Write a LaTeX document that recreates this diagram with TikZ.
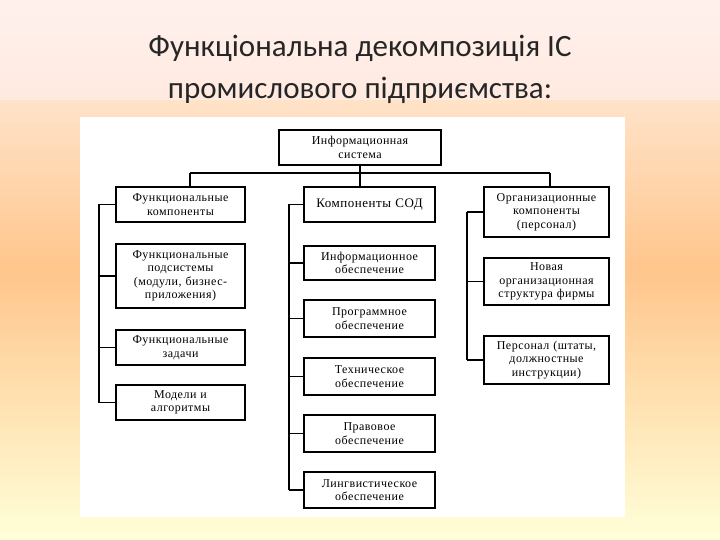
\documentclass[tikz,border=0pt]{standalone}
\usepackage{fontspec}
\setmainfont{Liberation Serif}[LetterSpace=4]
\newfontfamily\titlefont{Carlito}
\begin{document}
\begin{tikzpicture}[x=1pt,y=-1pt,
  bx/.style={draw,line width=1.2pt,fill=white,align=center,font=\fontsize{12}{13.5}\selectfont,inner sep=0pt},
  ln/.style={line width=1.2pt}]
\useasboundingbox (0,0) rectangle (720,540);
\shade[top color=white!60!pink!70!orange!20, bottom color=yellow!15!white, middle color=orange!45!white] (0,0) rectangle (720,540);
\fill[pink!25!white,opacity=0.6] (0,0) rectangle (720,100);
\node[font=\titlefont\fontsize{31}{42}\selectfont,align=center,text=black!85] (title) at (360,69) {Функціональна декомпозиція ІС\\промислового підприємства:};
\fill[white] (80,117) rectangle (625,517);
% boxes
\node[bx,minimum width=162,minimum height=35] (is) at (360,147.5) {Информационная\\система};
\tikzset{L/.style={bx,minimum width=129,text width=127},M/.style={bx,minimum width=131,text width=129},R/.style={bx,minimum width=125,text width=123}}
\node[L,minimum height=35] (l1) at (180.5,204.5) {Функциональные\\компоненты};
\node[L,minimum height=64] (l2) at (180.5,276) {Функциональные\\подсистемы\\(модули, бизнес-\\приложения)};
\node[L,minimum height=35] (l3) at (180.5,347.5) {Функциональные\\задачи};
\node[L,minimum height=35] (l4) at (180.5,402.5) {Модели и\\алгоритмы};
\node[M,minimum height=35,font=\fontsize{13}{14}\selectfont] (m1) at (369.5,204.5) {Компоненты СОД};
\node[M,minimum height=34] (m2) at (369.5,263) {Информационное\\обеспечение};
\node[M,minimum height=37] (m3) at (369.5,318.5) {Программное\\обеспечение};
\node[M,minimum height=37] (m4) at (369.5,376.5) {Техническое\\обеспечение};
\node[M,minimum height=37] (m5) at (369.5,433.5) {Правовое\\обеспечение};
\node[M,minimum height=36] (m6) at (369.5,490) {Лингвистическое\\обеспечение};
\node[R,minimum height=50] (r1) at (546.5,212) {Организационные\\компоненты\\(персонал)};
\node[R,minimum height=47] (r2) at (546.5,281.5) {Новая\\организационная\\структура фирмы};
\node[R,minimum height=48] (r3) at (546.5,360) {Персонал (штаты,\\должностные\\инструкции)};
% connectors
\coordinate (bus) at (360,173);
\draw[ln] (is.south) -- (bus);
\draw[ln] (190,173) -- (550,173);
\draw[ln] (190,173) -- (190,187);
\draw[ln] (360,173) -- (360,187);
\draw[ln] (550,173) -- (550,187);
\foreach \n in {l1,l2,l3,l4}{\draw[ln] (\n.west) -- (99,0 |- \n.west);}
\draw[ln] (99,0 |- l1.west) -- (99,0 |- l4.west);
\foreach \n in {m1,m2,m3,m4,m5,m6}{\draw[ln] (\n.west) -- (289,0 |- \n.west);}
\draw[ln] (289,0 |- m1.west) -- (289,0 |- m6.west);
\foreach \n in {r1,r2,r3}{\draw[ln] (\n.west) -- (467,0 |- \n.west);}
\draw[ln] (467,0 |- r1.west) -- (467,0 |- r3.west);
\end{tikzpicture}
\end{document}
